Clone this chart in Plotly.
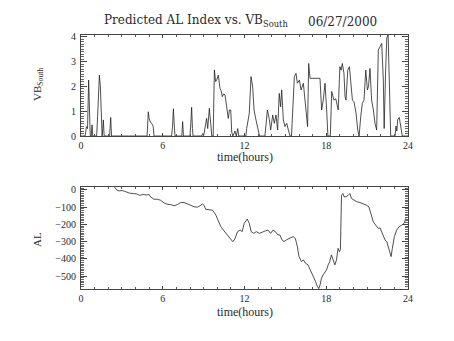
import plotly.graph_objects as go

W, H = 454, 341

# ---- Data ----
vb_hours = [0.0, 0.3, 0.4, 0.48, 0.56, 0.62, 0.68, 0.75, 0.81, 0.86, 1.15, 1.22, 1.3, 1.35,
            1.42, 1.5, 1.55, 1.6, 1.64, 1.7, 2.1, 2.18, 2.24, 4.85, 4.94, 5.0, 5.1, 5.2, 5.3,
            5.36, 6.65, 6.72, 6.78, 6.85, 6.9, 7.4, 7.46, 7.52, 8.0, 8.06, 8.12, 8.18, 8.22,
            8.85, 8.93, 9.0, 9.22, 9.3, 9.42, 9.52, 9.6, 9.7, 9.79, 9.88, 9.96, 10.08, 10.2,
            10.3, 10.37, 10.47, 10.57, 10.69, 10.81, 10.89, 10.99, 11.06, 11.15, 11.3, 11.4,
            11.5, 11.58, 12.1, 12.16, 12.35, 12.48, 12.6, 12.7, 12.82, 12.94, 13.1, 13.5,
            13.68, 13.83, 13.92, 14.07, 14.19, 14.31, 14.43, 14.55, 14.65, 14.73, 14.85,
            14.97, 15.1, 15.22, 15.34, 15.45, 15.54, 15.66, 15.78, 15.88, 16.03, 16.15,
            16.32, 16.44, 16.56, 16.63, 16.71, 16.81, 17.54, 17.66, 17.78, 17.91, 18.03,
            18.12, 18.3, 18.4, 18.56, 18.7, 18.88, 19.0, 19.09, 19.18, 19.3, 19.38, 19.45,
            19.58, 19.7, 19.82, 19.92, 20.04, 20.19, 20.31, 20.41, 20.53, 20.65, 20.77,
            20.9, 21.02, 21.1, 21.21, 21.33, 21.46, 21.58, 21.7, 21.82, 21.95, 22.07, 22.19,
            22.25, 22.35, 22.44, 22.54, 22.63, 22.73, 23.05, 23.12, 23.18, 23.24, 23.36,
            23.46, 23.58, 24.0]
vb_values = [0.0, 0.0, 0.38, 0.3, 2.26, 1.05, 0.0, 0.0, 0.45, 0.0, 0.0, 0.8, 2.0, 2.46,
             2.0, 1.0, 0.0, 0.3, 0.65, 0.0, 0.0, 0.75, 0.0, 0.0, 0.98, 0.7, 0.55, 0.5, 0.38,
             0.0, 0.0, 0.4, 1.1, 0.4, 0.0, 0.0, 0.58, 0.0, 0.0, 0.5, 1.16, 0.3, 0.0,
             0.0, 0.1, 0.0, 0.71, 0.3, 1.12, 0.5, 0.0, 0.0, 2.67, 2.2, 2.26, 2.46, 1.93,
             1.8, 1.59, 1.7, 1.66, 1.18, 0.71, 1.05, 1.05, 0.16, 0.0, 0.2, 0.0,
             0.3, 0.0, 0.0, 0.3, 0.92, 2.4, 1.99, 1.05, 0.71, 0.38, 0.0, 0.0,
             1.05, 0.65, 0.24, 0.85, 0.51, 0.85, 0.24, 1.72, 1.18, 1.86, 0.65,
             0.38, 0.51, 0.24, 0.0, 0.0, 0.98, 2.4, 2.53, 2.13, 2.26, 1.86,
             2.13, 1.45, 0.65, 0.38, 2.93, 2.33, 2.33, 1.05, 1.45, 2.13, 1.05,
             0.0, 0.0, 1.8, 1.45, 1.5, 1.05, 2.8, 2.66, 2.93, 2.53, 1.59, 1.45,
             2.66, 2.8, 1.99, 1.45, 1.38, 0.91, 0.24, 0.0, 0.78, 1.32, 1.45,
             2.66, 1.86, 2.0, 2.73, 1.45, 1.05, 0.51, 0.24, 3.47, 3.61, 3.74, 2.26,
             0.3, 2.5, 3.95, 4.1, 2.26, 0.0, 0.0, 0.4, 0.2, 0.65, 0.75,
             0.38, 0.0, 0.0]

al_hours = [2.45, 2.65, 2.84, 3.0, 3.2, 3.41, 3.58, 3.83, 4.08, 4.3, 4.57, 4.8, 5.0, 5.1,
            5.35, 5.6, 5.84, 6.09, 6.33, 6.58, 6.83, 7.07, 7.32, 7.56, 7.8, 8.05, 8.3, 8.54,
            8.74, 8.91, 9.03, 9.15, 9.4, 9.65, 9.9, 10.14, 10.26, 10.5, 10.75, 11.0, 11.14,
            11.29, 11.49, 11.68, 11.83, 11.98, 12.2, 12.35, 12.49, 12.69, 12.86, 13.1,
            13.35, 13.52, 13.72, 13.92, 14.09, 14.26, 14.46, 14.6, 14.75, 14.9, 15.07,
            15.32, 15.57, 15.73, 15.88, 16.0, 16.18, 16.32, 16.47, 16.66, 16.84, 17.03,
            17.21, 17.35, 17.45, 17.55, 17.65, 17.77, 17.9, 18.02, 18.14, 18.26, 18.38,
            18.51, 18.63, 18.75, 18.87, 18.97, 19.04, 19.12, 19.22, 19.31, 19.46, 19.61,
            19.73, 19.86, 20.05, 20.25, 20.47, 20.72, 20.96, 21.13, 21.28, 21.45, 21.63,
            21.82, 21.95, 22.07, 22.19, 22.31, 22.44, 22.56, 22.68, 22.76, 22.85, 23.0,
            23.17, 23.35, 23.54, 23.71, 23.84]
al_values = [17, -2, -6, -3, -8, -15, -19, -21, -23, -31, -27, -29, -27, -40,
             -54, -54, -60, -75, -83, -85, -92, -85, -73, -73, -79, -89, -98, -100,
             -92, -81, -89, -112, -115, -117, -146, -185, -213, -238, -261, -290, -300,
             -285, -242, -233, -242, -194, -169, -194, -242, -252, -242, -252,
             -242, -238, -233, -252, -233, -242, -261, -262, -290, -300, -290,
             -281, -271, -281, -329, -387, -416, -406, -425, -435, -464, -502,
             -531, -560, -573, -550, -512, -493, -473, -464, -435, -416, -377,
             -416, -435, -406, -339, -358, -345, -31, -21, -40, -40, -31,
             -21, -50, -60, -69, -73, -79, -89, -98, -137, -185, -204,
             -223, -220, -242, -261, -290, -300, -339, -377, -387, -339, -271,
             -233, -213, -204, -194, -165]

x_ticks = [0, 6, 12, 18, 24]
vb_ticks = [0, 1, 2, 3, 4]
al_ticks = [0, -100, -200, -300, -400, -500]

# ---- Layout helpers ----
def px(x):
    return x / W

def py(y):
    return 1 - y / H

TXT = "#2a2a2a"
TICKFONT = dict(family="Liberation Serif", size=10, color=TXT)

fig = go.Figure()
fig.add_trace(go.Scatter(x=vb_hours, y=vb_values, mode="lines",
                         line=dict(color="#222", width=0.8), xaxis="x", yaxis="y",
                         showlegend=False, hoverinfo="skip"))
fig.add_trace(go.Scatter(x=al_hours, y=al_values, mode="lines",
                         line=dict(color="#222", width=0.8), xaxis="x2", yaxis="y2",
                         showlegend=False, hoverinfo="skip"))

def xaxis(dom_y_anchor):
    return dict(domain=[px(81), px(408)], range=[0, 24], tickvals=x_ticks,
                ticks="inside", ticklen=3, tickcolor="#444", tickwidth=1,
                minor=dict(dtick=1, tick0=0, ticks="inside", ticklen=2, tickcolor="#555"),
                showline=True, linecolor="#444", linewidth=1, mirror="allticks",
                showgrid=False, zeroline=False, tickfont=TICKFONT,
                anchor=dom_y_anchor, automargin=False)

fig.update_layout(
    width=W, height=H,
    margin=dict(l=0, r=0, t=0, b=0),
    paper_bgcolor="white", plot_bgcolor="white",
    xaxis=xaxis("y"),
    yaxis=dict(domain=[py(136), py(34.5)], range=[0, 4.1], tickvals=vb_ticks,
               ticks="inside", ticklen=6, tickcolor="#444",
               minor=dict(dtick=0.1, tick0=0, ticks="inside", ticklen=3, tickcolor="#666"),
               showline=True, linecolor="#444", linewidth=1, mirror="allticks",
               showgrid=False, zeroline=False, tickfont=TICKFONT, anchor="x",
               automargin=False, ticklabelstandoff=2),
    xaxis2=xaxis("y2"),
    yaxis2=dict(domain=[py(289), py(187)], range=[-575, 17], tickvals=al_ticks,
                ticks="inside", ticklen=6, tickcolor="#444",
                minor=dict(dtick=10, tick0=0, ticks="inside", ticklen=3, tickcolor="#666"),
                showline=True, linecolor="#444", linewidth=1, mirror="allticks",
                showgrid=False, zeroline=False, tickfont=TICKFONT, anchor="x2",
                automargin=False, ticklabelstandoff=2),
)

ann = []
ann.append(dict(text="Predicted AL Index vs. VB<sub>South</sub>", x=px(102), y=py(31),
                xanchor="left", yanchor="bottom", showarrow=False,
                font=dict(family="DejaVu Serif", size=12, color=TXT)))
ann.append(dict(text="06/27/2000", x=px(306), y=py(31),
                xanchor="left", yanchor="bottom", showarrow=False,
                font=dict(family="DejaVu Serif", size=12, color=TXT)))
for yc in (157, 312):
    ann.append(dict(text="time(hours)", x=px(245), y=py(yc), xanchor="center",
                    yanchor="middle", showarrow=False,
                    font=dict(family="Liberation Serif", size=12, color=TXT)))
ann.append(dict(text="VB<sub>South</sub>", x=px(38), y=py(85), xanchor="center",
                yanchor="middle", textangle=-90, showarrow=False,
                font=dict(family="Liberation Serif", size=11, color=TXT)))
ann.append(dict(text="AL", x=px(37), y=py(240), xanchor="center",
                yanchor="middle", textangle=-90, showarrow=False,
                font=dict(family="Liberation Serif", size=11, color=TXT)))
for a in ann:
    a["xref"] = "paper"
    a["yref"] = "paper"
fig.update_layout(annotations=ann)

fig.write_html("out.html")
